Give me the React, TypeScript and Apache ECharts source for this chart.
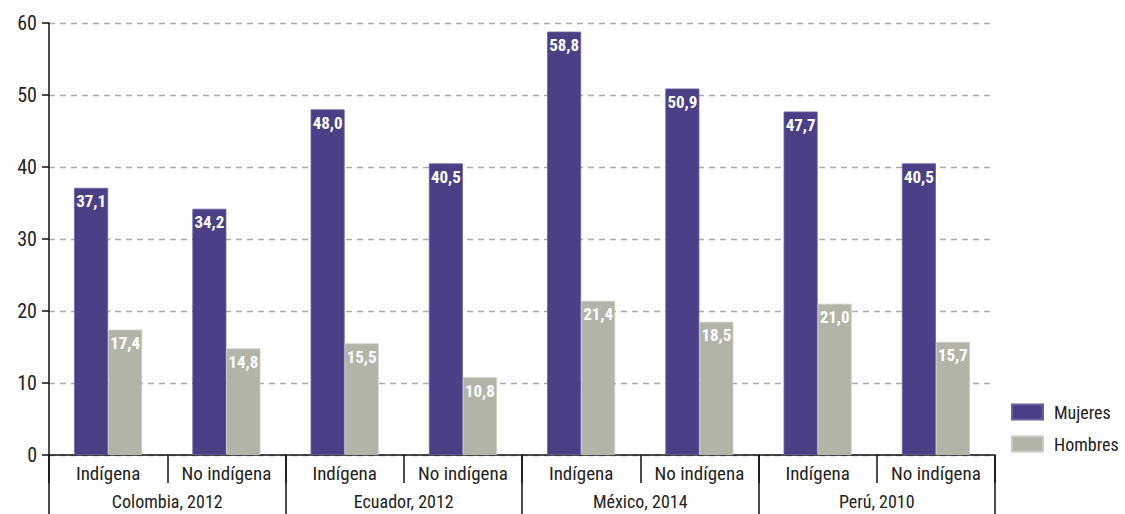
import React, { useEffect, useRef } from "react";
import * as echarts from "echarts";

const groups = ["Colombia, 2012", "Ecuador, 2012", "México, 2014", "Perú, 2010"];
const subCategories = [
  "Indígena", "No indígena", "Indígena", "No indígena",
  "Indígena", "No indígena", "Indígena", "No indígena",
];
const mujeres = [37.1, 34.2, 48.0, 40.5, 58.8, 50.9, 47.7, 40.5];
const hombres = [17.4, 14.8, 15.5, 10.8, 21.4, 18.5, 21.0, 15.7];
const yTicks = { min: 0, max: 60, interval: 10 };

const FONT = "'Roboto Condensed', Roboto, sans-serif";
const PURPLE = "#4b3f86";
const GRAY = "#b2b4a8";

export default function App() {
  const ref = useRef<HTMLDivElement>(null);
  useEffect(() => {
    document.body.style.margin = "0";
    const chart = echarts.init(ref.current!, null, { renderer: "svg" });
    const fmt = (p: any) => Number(p.value).toFixed(1).replace(".", ",");
    const label = {
      show: true,
      position: "insideTop",
      distance: 5,
      color: "#fff",
      fontWeight: "bold",
      fontSize: 17,
      fontFamily: FONT,
      formatter: fmt,
    };
    chart.setOption({
      animation: false,
      textStyle: { fontFamily: FONT },
      grid: { left: 49, right: 130, top: 23, bottom: 59, containLabel: false },
      legend: {
        orient: "vertical",
        left: 1006,
        top: 398,
        itemWidth: 31,
        itemHeight: 15,
        itemGap: 14,
        icon: "rect",
        textStyle: { fontSize: 18, color: "#222", fontFamily: FONT, padding: [0, 0, 0, 6] },
        data: ["Mujeres", "Hombres"],
      },
      xAxis: [
        {
          type: "category",
          data: subCategories,
          position: "bottom",
          axisLine: { show: true, lineStyle: { color: "#111", width: 1.5 } },
          axisTick: { show: true, length: 28, lineStyle: { color: "#111", width: 1.5 } },
          axisLabel: { interval: 0, margin: 9, fontSize: 19, color: "#222", fontFamily: FONT },
        },
        {
          type: "category",
          data: groups,
          position: "bottom",
          axisLine: { show: false },
          axisTick: { show: true, length: 70, lineStyle: { color: "#111", width: 1.5 } },
          axisLabel: { interval: 0, margin: 37, fontSize: 18, color: "#222", fontFamily: FONT },
        },
      ],
      yAxis: {
        type: "value",
        min: yTicks.min,
        max: yTicks.max,
        interval: yTicks.interval,
        axisLine: { show: true, lineStyle: { color: "#111", width: 1.5 } },
        axisTick: { show: true, length: 7, lineStyle: { color: "#111", width: 1.5 } },
        axisLabel: { margin: 12, fontSize: 20, color: "#222", fontFamily: FONT },
        splitLine: { show: true, lineStyle: { color: "#aaa", type: [6, 5], width: 1.3 } },
      },
      series: [
        {
          name: "Mujeres",
          type: "bar",
          xAxisIndex: 0,
          data: mujeres,
          barWidth: 34,
          barGap: "0%",
          itemStyle: { color: PURPLE, borderColor: "#6a61a2", borderWidth: 0.8 },
          label,
        },
        {
          name: "Hombres",
          type: "bar",
          xAxisIndex: 0,
          data: hombres,
          barWidth: 34,
          barGap: "0%",
          itemStyle: { color: GRAY, borderColor: "#c9cac1", borderWidth: 0.8 },
          label,
        },
      ],
    });
    return () => chart.dispose();
  }, []);
  return <div ref={ref} style={{ width: 1125, height: 514 }} />;
}
